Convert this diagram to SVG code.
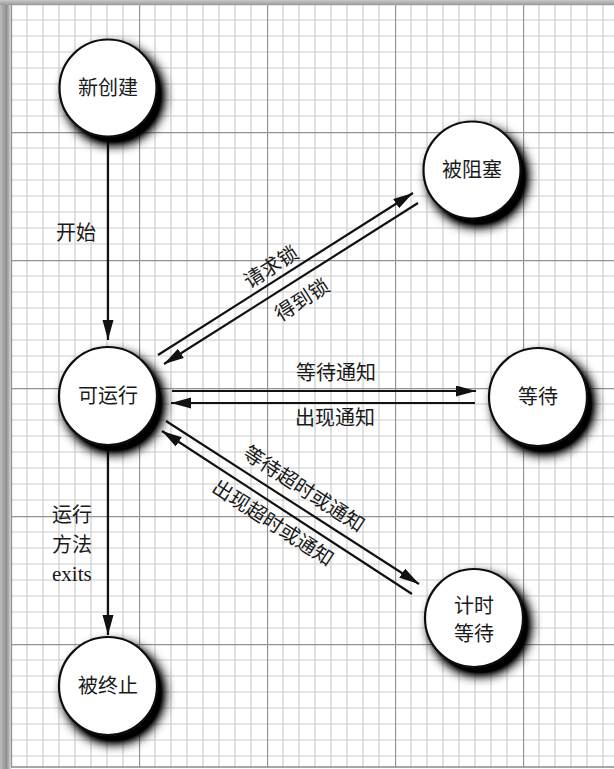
<svg xmlns="http://www.w3.org/2000/svg" width="614" height="769" viewBox="0 0 614 769">
<style>
.node circle{fill:#fff;stroke:#111;stroke-width:2.2;}
.t{font-family:"Liberation Serif","Noto Sans CJK SC",serif;font-size:20px;fill:#1a1a1a;}
.nt{text-anchor:middle;dominant-baseline:central;}
.lbl{font-family:"Liberation Serif","Noto Sans CJK SC",serif;font-size:20px;fill:#1a1a1a;dominant-baseline:central;}
.edge{stroke:#111;stroke-width:2.2;fill:none;marker-end:url(#arr);}
</style>
<defs>
<marker id="arr" markerUnits="userSpaceOnUse" markerWidth="22" markerHeight="12" refX="20" refY="5.5" orient="auto">
<path d="M0,0 L20,5.5 L0,11 Z" fill="#111"/>
</marker>
<pattern id="grid" patternUnits="userSpaceOnUse" x="11" y="4" width="128" height="128">
<path d="M16,0V128M32,0V128M48,0V128M64,0V128M80,0V128M96,0V128M112,0V128M0,16H128M0,32H128M0,48H128M0,64H128M0,80H128M0,96H128M0,112H128" stroke="#cdcdcd" stroke-width="1.2" fill="none"/>
<path d="M0.5,0V128M0,0.5H128" stroke="#929292" stroke-width="1.3" fill="none"/>
</pattern>
<linearGradient id="edgeL" x1="0" y1="0" x2="1" y2="0">
<stop offset="0" stop-color="#bdbdbd"/><stop offset="0.6" stop-color="#8e8e8e"/><stop offset="1" stop-color="#d8d8d8"/>
</linearGradient>
<linearGradient id="edgeT" x1="0" y1="0" x2="0" y2="1">
<stop offset="0" stop-color="#c8c8c8"/><stop offset="1" stop-color="#9a9a9a"/>
</linearGradient>
<filter id="sh" x="-40%" y="-40%" width="190%" height="190%">
<feGaussianBlur in="SourceAlpha" stdDeviation="6" result="b"/>
<feOffset in="b" dx="6" dy="7" result="o"/>
<feComponentTransfer in="o" result="d"><feFuncA type="linear" slope="1.5"/></feComponentTransfer>
<feMerge><feMergeNode in="d"/><feMergeNode in="SourceGraphic"/></feMerge>
</filter>
</defs>
<g id="background">
<rect x="0" y="0" width="614" height="769" fill="#fff"/>
<rect x="11" y="5" width="603" height="762" fill="url(#grid)"/>
<rect x="0" y="0" width="11" height="769" fill="url(#edgeL)"/>
<rect x="0" y="0" width="614" height="5" fill="url(#edgeT)"/>
<line x1="11" y1="767" x2="614" y2="767" stroke="#888" stroke-width="1.5"/>
</g>
<g id="connectors">
<line class="edge" x1="108" y1="137" x2="108" y2="340"/>
<line class="edge" x1="158" y1="355" x2="413" y2="193"/>
<line class="edge" x1="418" y1="203" x2="164" y2="364"/>
<line class="edge" x1="172" y1="391" x2="476" y2="391"/>
<line class="edge" x1="475" y1="403" x2="171" y2="403"/>
<line class="edge" x1="166" y1="421" x2="419" y2="584"/>
<line class="edge" x1="412" y1="594" x2="162" y2="431"/>
<line class="edge" x1="108" y1="446" x2="108" y2="635"/>
</g>
<g id="edge-labels">
<text class="lbl" x="56" y="233">开始</text>
<text class="lbl" text-anchor="middle" transform="translate(271,267) rotate(-32.5)">请求锁</text>
<text class="lbl" text-anchor="middle" transform="translate(302,300) rotate(-32.5)">得到锁</text>
<text class="lbl" text-anchor="middle" x="336" y="373">等待通知</text>
<text class="lbl" text-anchor="middle" x="335" y="418">出现通知</text>
<text class="lbl" text-anchor="middle" transform="translate(304,489) rotate(33)">等待超时或通知</text>
<text class="lbl" text-anchor="middle" transform="translate(273,523) rotate(33)">出现超时或通知</text>
<text class="lbl" x="52" y="515">运行</text>
<text class="lbl" x="52" y="545">方法</text>
<text class="lbl" x="52" y="574" style="font-size:21px">exits</text>
</g>
<g id="node-new" class="node"><circle cx="108" cy="88" r="48.5" filter="url(#sh)"/><text class="t nt" x="108" y="88">新创建</text></g>
<g id="node-blocked" class="node"><circle cx="472" cy="170" r="48.5" filter="url(#sh)"/><text class="t nt" x="472" y="170">被阻塞</text></g>
<g id="node-runnable" class="node"><circle cx="108" cy="396" r="49" filter="url(#sh)"/><text class="t nt" x="108" y="396">可运行</text></g>
<g id="node-waiting" class="node"><circle cx="538" cy="397" r="49" filter="url(#sh)"/><text class="t nt" x="538" y="397">等待</text></g>
<g id="node-timed" class="node"><circle cx="474" cy="618" r="49" filter="url(#sh)"/><text class="t nt" x="474" y="606">计时</text><text class="t nt" x="474" y="634">等待</text></g>
<g id="node-terminated" class="node"><circle cx="108" cy="686" r="49" filter="url(#sh)"/><text class="t nt" x="108" y="686">被终止</text></g>
</svg>
